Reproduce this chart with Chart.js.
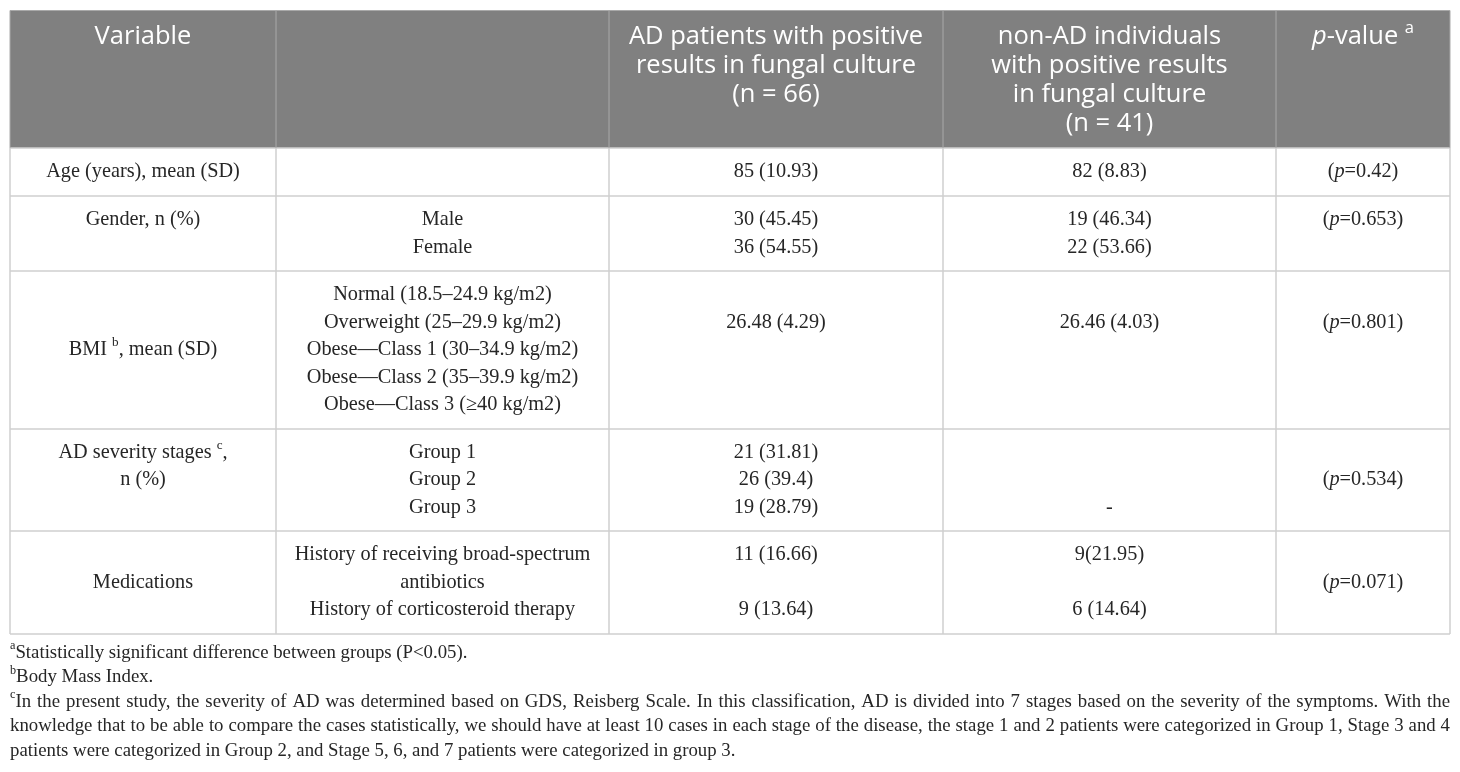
<!DOCTYPE html>
<html>
<head>
<meta charset="utf-8">
<title>AD vs non-AD fungal culture</title>
<script src="https://cdn.jsdelivr.net/npm/chart.js@4.4.1/dist/chart.umd.min.js"></script>
<style>
  html, body { margin: 0; padding: 0; background: #ffffff; }
  canvas { display: block; }
</style>
</head>
<body>
<canvas id="table-chart" width="1460" height="772"></canvas>
<script>
// table content ( *x* = italic, ^x = superscript )
const columnTitles = [
  ['Variable'],
  [''],
  ['AD patients with positive', 'results in fungal culture', '(n = 66)'],
  ['non-AD individuals', 'with positive results', 'in fungal culture', '(n = 41)'],
  ['*p*-value ^a']
];

const variables = [
  ['Age (years), mean (SD)'],
  ['Gender, n (%)', ''],
  ['BMI ^b, mean (SD)'],
  ['AD severity stages ^c,', 'n (%)', ''],
  ['Medications']
];

const subgroups = [
  [''],
  ['Male', 'Female'],
  ['Normal (18.5–24.9 kg/m2)', 'Overweight (25–29.9 kg/m2)', 'Obese—Class 1 (30–34.9 kg/m2)',
   'Obese—Class 2 (35–39.9 kg/m2)', 'Obese—Class 3 (≥40 kg/m2)'],
  ['Group 1', 'Group 2', 'Group 3'],
  ['History of receiving broad-spectrum', 'antibiotics', 'History of corticosteroid therapy']
];

const adPatients = [
  ['85 (10.93)'],
  ['30 (45.45)', '36 (54.55)'],
  ['', '26.48 (4.29)', '', '', ''],
  ['21 (31.81)', '26 (39.4)', '19 (28.79)'],
  ['11 (16.66)', '', '9 (13.64)']
];

const nonAdIndividuals = [
  ['82 (8.83)'],
  ['19 (46.34)', '22 (53.66)'],
  ['', '26.46 (4.03)', '', '', ''],
  ['', '', '-'],
  ['9(21.95)', '', '6 (14.64)']
];

const pValues = [
  ['(*p*=0.42)'],
  ['(*p*=0.653)', ''],
  ['', '(*p*=0.801)', '', '', ''],
  ['', '(*p*=0.534)', ''],
  ['', '(*p*=0.071)', '']
];

const footnotes = [
  { mark: 'a', lines: ['Statistically significant difference between groups (P<0.05).'] },
  { mark: 'b', lines: ['Body Mass Index.'] },
  { mark: 'c', lines: [
    'In the present study, the severity of AD was determined based on GDS, Reisberg Scale. In this classification, AD is divided into 7 stages based on the severity of the symptoms. With the',
    'knowledge that to be able to compare the cases statistically, we should have at least 10 cases in each stage of the disease, the stage 1 and 2 patients were categorized in Group 1, Stage 3 and 4',
    'patients were categorized in Group 2, and Stage 5, 6, and 7 patients were categorized in group 3.'
  ] }
];

// layout (page units, mapped through the chart scales)
const colEdges = [10, 276, 609, 943, 1276, 1450];
const rowEdges = [10.5, 148, 196, 271, 429, 531, 634];
const headFirstLine = 37, headPitch = 29;
const bodyPitch = 27.5;
const noteTop = 653, notePitch = 24.5;

const SERIF = '"Liberation Serif", "Times New Roman", serif';
const SANS = '"Open Sans", "Noto Sans", sans-serif';

function parseRich(str) {
  const runs = [];
  let italic = false, buf = '';
  const flush = () => { if (buf) runs.push({ text: buf, italic, sup: false }); buf = ''; };
  for (let i = 0; i < str.length; i++) {
    const ch = str[i];
    if (ch === '*') { flush(); italic = !italic; }
    else if (ch === '^') { flush(); runs.push({ text: str[i + 1], italic: false, sup: true }); i++; }
    else buf += ch;
  }
  flush();
  return runs;
}

function runFont(run, o) {
  const size = run.sup ? o.size * 0.65 : o.size;
  return (run.italic ? 'italic ' : '') + size + 'px ' + o.family;
}

function drawRich(ctx, str, x, y, o) {
  const runs = parseRich(str);
  let total = 0;
  runs.forEach(r => { ctx.font = runFont(r, o); r.w = ctx.measureText(r.text).width; total += r.w; });
  let cx = o.align === 'left' ? x : x - total / 2;
  ctx.fillStyle = o.color;
  ctx.textBaseline = 'middle';
  ctx.textAlign = 'left';
  runs.forEach(r => {
    ctx.font = runFont(r, o);
    ctx.fillText(r.text, cx, r.sup ? y - o.size * 0.36 : y);
    cx += r.w;
  });
}

function drawJustified(ctx, mark, text, x0, x1, y, o) {
  ctx.fillStyle = o.color;
  ctx.textBaseline = 'middle';
  ctx.textAlign = 'left';
  let cx = x0;
  if (mark) {
    ctx.font = (o.size * 0.65) + 'px ' + o.family;
    ctx.fillText(mark, cx, y - o.size * 0.36);
    cx += ctx.measureText(mark).width;
  }
  ctx.font = o.size + 'px ' + o.family;
  const words = text.split(' ');
  const widths = words.map(w => ctx.measureText(w).width);
  const sum = widths.reduce((a, b) => a + b, 0);
  const gap = (x1 - cx - sum) / (words.length - 1);
  words.forEach((w, i) => { ctx.fillText(w, cx, y); cx += widths[i] + gap; });
}

const tablePlugin = {
  id: 'tablePlugin',
  afterDraw(chart) {
    const ctx = chart.ctx;
    const sx = v => chart.scales.x.getPixelForValue(v);
    const sy = v => chart.scales.y.getPixelForValue(v);
    const left = sx(colEdges[0]), right = sx(colEdges[colEdges.length - 1]);
    const top = sy(rowEdges[0]), headBottom = sy(rowEdges[1]), bottom = sy(rowEdges[rowEdges.length - 1]);

    ctx.save();
    // header band
    ctx.fillStyle = '#808080';
    ctx.fillRect(left, top, right - left, headBottom - top);

    // body grid
    ctx.strokeStyle = '#d0d0d0';
    ctx.lineWidth = 1.5;
    ctx.beginPath();
    rowEdges.forEach((r, i) => {
      if (i === 0) return;
      ctx.moveTo(left, sy(r)); ctx.lineTo(right, sy(r));
    });
    colEdges.forEach(c => { ctx.moveTo(sx(c), headBottom); ctx.lineTo(sx(c), bottom); });
    ctx.stroke();

    // header grid
    ctx.strokeStyle = '#a9a9a9';
    ctx.lineWidth = 1;
    ctx.beginPath();
    ctx.moveTo(left, top); ctx.lineTo(right, top);
    colEdges.forEach(c => { ctx.moveTo(sx(c), top); ctx.lineTo(sx(c), headBottom); });
    ctx.stroke();

    // header text
    const headOpt = { family: SANS, size: 25.5, color: '#ffffff' };
    columnTitles.forEach((lines, c) => {
      const cx = (sx(colEdges[c]) + sx(colEdges[c + 1])) / 2;
      lines.forEach((t, i) => drawRich(ctx, t, cx, sy(headFirstLine + i * headPitch), headOpt));
    });

    // body cells
    const bodyOpt = { family: SERIF, size: 20.3, color: '#262626' };
    const columns = [variables, subgroups, adPatients, nonAdIndividuals, pValues];
    columns.forEach((col, c) => {
      const cx = (sx(colEdges[c]) + sx(colEdges[c + 1])) / 2;
      col.forEach((lines, r) => {
        const mid = (rowEdges[r + 1] + rowEdges[r + 2]) / 2;
        lines.forEach((t, i) => {
          if (!t) return;
          const y = mid + (i - (lines.length - 1) / 2) * bodyPitch;
          drawRich(ctx, t, cx, sy(y), bodyOpt);
        });
      });
    });

    // footnotes
    const noteOpt = { family: SERIF, size: 18.8, color: '#262626', align: 'left' };
    let line = 0;
    footnotes.forEach(note => {
      note.lines.forEach((t, i) => {
        const y = sy(noteTop + line * notePitch);
        const mark = i === 0 ? note.mark : '';
        if (i < note.lines.length - 1) {
          drawJustified(ctx, mark, t, left, right, y, noteOpt);
        } else {
          drawRich(ctx, (mark ? '^' + mark : '') + t, left, y, noteOpt);
        }
        line++;
      });
    });
    ctx.restore();
  }
};

new Chart(document.getElementById('table-chart'), {
  type: 'scatter',
  data: { datasets: [] },
  options: {
    responsive: false,
    animation: false,
    layout: { padding: 0 },
    plugins: { legend: { display: false }, tooltip: { enabled: false } },
    scales: {
      x: { type: 'linear', min: 0, max: 1460, display: false },
      y: { type: 'linear', min: 0, max: 772, reverse: true, display: false }
    }
  },
  plugins: [tablePlugin]
});
</script>
</body>
</html>
